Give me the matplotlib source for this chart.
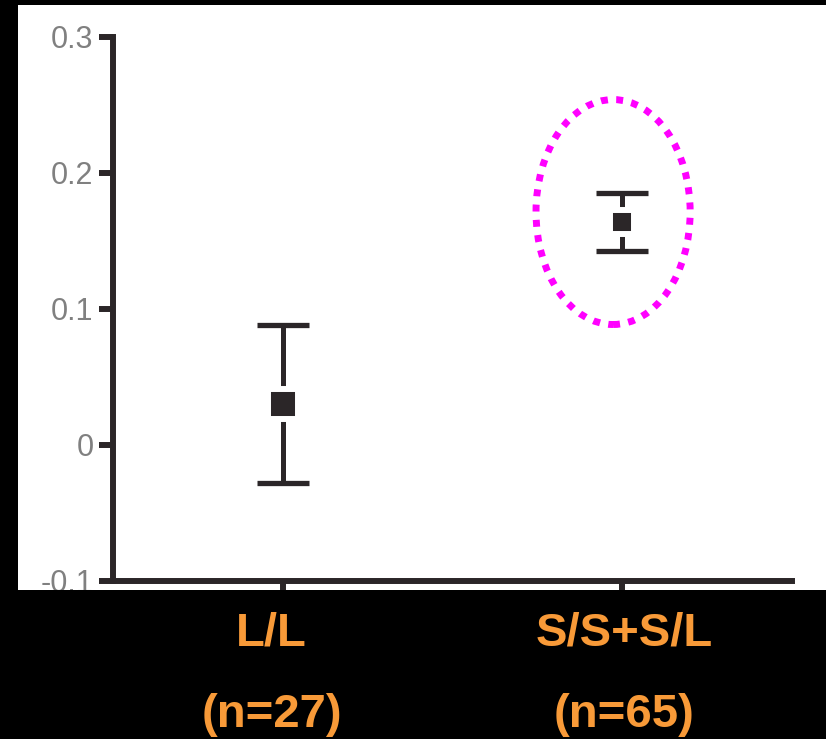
import numpy as np
import matplotlib
matplotlib.use("Agg")
import matplotlib.pyplot as plt
import matplotlib.transforms as mtransforms
from matplotlib.patches import Rectangle, Ellipse

# Data
groups = ['L/L', 'S/S+S/L']
n_subjects = [27, 65]
means = [0.030, 0.164]
sems = [0.058, 0.021]
yticks = [-0.1, 0, 0.1, 0.2, 0.3]
ytick_labels = ['-0.1', '0', '0.1', '0.2', '0.3']

# Styles
dark = '#2b2628'
orange = '#F89A38'
marker_pt = [20.9, 16.6]
label_dx_px = [-11, 2]

W, H = 826, 739
fig = plt.figure(figsize=(W / 100, H / 100), dpi=100, facecolor='black')

# white panel behind the plot, black band under it
fig.patches.append(Rectangle((18 / W, 149 / H), 808 / W, 585 / H,
                             transform=fig.transFigure, facecolor='white',
                             edgecolor='none', zorder=-1))
fig.patches.append(Rectangle((0, 0), 1, 149 / H, transform=fig.transFigure,
                             facecolor='black', edgecolor='none', zorder=2))

ax = fig.add_axes([113 / W, 158 / H, (792 - 113) / W, (702 - 158) / H])
ax.set_facecolor('none')

x = np.arange(1, len(groups) + 1)
ax.errorbar(x, means, yerr=sems, fmt='none', ecolor=dark,
            elinewidth=3.6, capsize=18.7, capthick=3.8, zorder=2)
for xi, m, ms in zip(x, means, marker_pt):
    ax.plot([xi], [m], marker='s', linestyle='none', markersize=ms,
            markerfacecolor=dark, markeredgecolor='white',
            markeredgewidth=4.3, zorder=3)

# dotted magenta highlight around the second group
ax.add_patch(Ellipse((1.973, 0.1713), 0.454, 0.1654, fill=False,
                     edgecolor='#ff00ff', linewidth=5,
                     linestyle=(0, (1, 1.2)), capstyle='butt', zorder=4))

ax.set_xlim(0.5, 2.5)
ax.set_ylim(-0.1, 0.3)
ax.set_yticks(yticks)
ax.set_yticklabels(ytick_labels, fontsize=22, color='#808080',
                   family='Liberation Sans')
ax.set_xticks(x)
ax.set_xticklabels([])

# tick labels sit a little above their ticks in the original
up = mtransforms.ScaledTranslation(0, 6 / 100, fig.dpi_scale_trans)
for lbl in ax.get_yticklabels():
    lbl.set_transform(lbl.get_transform() + up)

for side in ['top', 'right']:
    ax.spines[side].set_visible(False)
for side in ['left', 'bottom']:
    ax.spines[side].set_linewidth(4.3)
    ax.spines[side].set_color(dark)
ax.spines['left'].set_capstyle('projecting')
ax.tick_params(axis='y', length=10, width=4.3, color=dark, pad=4)
ax.tick_params(axis='x', length=10, width=4.3, color=dark)

# category labels on the black band
blend = mtransforms.blended_transform_factory(ax.transData, fig.transFigure)
for xi, g, n, dx in zip(x, groups, n_subjects, label_dx_px):
    tr = blend + mtransforms.ScaledTranslation(dx / 100, 0, fig.dpi_scale_trans)
    fig.text(xi, 93 / H, g, transform=tr, ha='center', va='baseline',
             fontsize=34, fontweight='bold', color=orange,
             family='Liberation Sans', zorder=3)
    fig.text(xi, 12 / H, f'(n={n})', transform=tr, ha='center', va='baseline',
             fontsize=34, fontweight='bold', color=orange,
             family='Liberation Sans', zorder=3)

fig.savefig('out.png', dpi=100, facecolor=fig.get_facecolor())
